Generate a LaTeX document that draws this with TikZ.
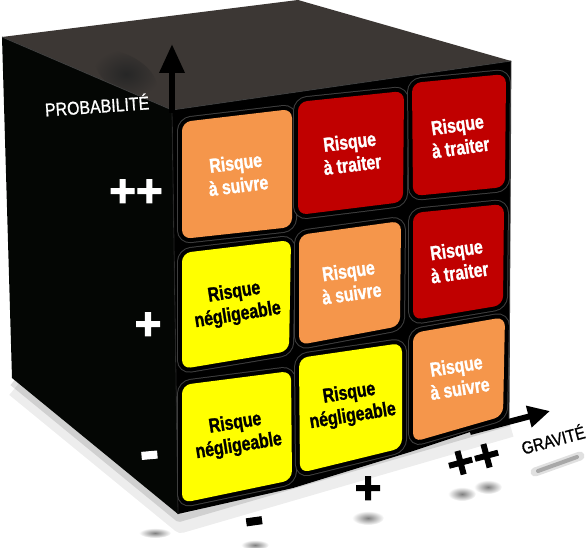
\documentclass[tikz,border=0pt]{standalone}
\usepackage{fontspec}
\setmainfont{Liberation Sans}
\newfontfamily\tilefont{Liberation Sans}[FakeStretch=0.79,FakeBold=1.2]
\newfontfamily\labelfont{Liberation Sans}[FakeStretch=0.86,FakeBold=1]
\newfontfamily\markfont{Liberation Sans}[FakeBold=2]
\usetikzlibrary{arrows.meta}
\definecolor{topface}{RGB}{60,55,52}
\definecolor{sideface}{RGB}{4,6,4}
\definecolor{groove}{RGB}{62,62,62}
\definecolor{riskorange}{RGB}{245,150,75}
\definecolor{riskred}{RGB}{192,0,0}
\definecolor{riskyellow}{RGB}{255,255,0}

\begin{document}
\begin{tikzpicture}[x=1pt,y=1pt,yscale=-1,
  tile/.style={rounded corners=9pt,preaction={draw=groove,line width=10pt},preaction={draw=black,line width=8pt}},
  tiletext/.style={inner sep=0.75pt,align=center,font=\tilefont\bfseries\fontsize{20}{23}\selectfont},
  axislabel/.style={inner sep=0.75pt,font=\labelfont\fontsize{18.5}{20}\selectfont},
  scalemark/.style={inner sep=0pt,font=\markfont\bfseries\fontsize{46}{46}\selectfont},
  minusmark/.style={inner sep=0pt,font=\markfont\bfseries\fontsize{58}{58}\selectfont},
  blob/.style={inner color=black!50,outer color=white}]
\useasboundingbox (0,0) rectangle (586,548);

%Shadow of the cube
\draw [black,opacity=0.07,line width=18pt,line join=round] (15,388) -- (181,524) -- (511,428) ;
\draw [black,opacity=0.12,line width=8pt,line join=round] (13,382) -- (179,518) -- (509,422) ;
%Shadows of the marks
\shade [blob] (155,533) ellipse (16 and 5);
\shade [blob] (255,545) ellipse (14 and 5);
\shade [blob] (368,518) ellipse (16 and 7);
\shade [blob] (462,494) ellipse (14 and 7);
\shade [blob] (488,487) ellipse (14 and 7);
%Shadow of the gravite axis
\draw [black,opacity=0.12,line width=9pt,line cap=round] (535,472) -- (580,456) ;
\draw [black,opacity=0.25,line width=4pt,line cap=round] (538,471) -- (577,457) ;

%Shape: top face
\fill [topface] (2,37) -- (298,0) -- (511,61) -- (172,110) -- cycle ;
\begin{scope}
\clip (2,37) -- (298,0) -- (511,61) -- (172,110) -- cycle ;
\shade [inner color=black!85,outer color=topface,rotate around={30:(126,74)}] (126,74) ellipse (34 and 18);
\end{scope}
%Shape: left face
\fill [sideface] (2,37) -- (172,110) -- (178,514) -- (12,378) -- cycle ;
%Shape: front face
\fill [black] (172,110) -- (511,61) -- (509,419) -- (410,452) -- (293,488) -- (178,514) -- cycle ;
%Edges
\draw [groove,line width=0.8pt] (2,37) -- (172,110) -- (511,61) ;
\draw [groove,line width=0.8pt] (511,61) -- (509,419) ;
\draw [groove!60!black,line width=0.8pt] (172,110) -- (178,514) ;

%Axis probabilite
\coordinate (origin) at (172,113) ;
\coordinate (ptop) at (172,44) ;
\draw [line width=6.5pt,-{Triangle[length=29pt,width=24pt]}] (origin) -- (ptop) ;
%Axis gravite
\coordinate (gstart) at (470,432) ;
\coordinate (gend) at (550,411) ;
\draw [line width=6pt,-{Triangle[length=22pt,width=21pt]}] (gstart) -- (gend) ;

%Tiles, row 1
\path [tile,fill=riskorange] (182,122) -- (292,109) -- (292,227) -- (182,239) -- cycle ;
\path [tile,fill=riskred] (298,102) -- (404,91) -- (403,202) -- (298,215) -- cycle ;
\path [tile,fill=riskred] (412,83) -- (506,74) -- (505,187) -- (413,196) -- cycle ;
%Tiles, row 2
\path [tile,fill=riskyellow] (182,253) -- (291,240) -- (289,351) -- (182,369) -- cycle ;
\path [tile,fill=riskorange] (299,235) -- (401,221) -- (400,326) -- (299,345) -- cycle ;
\path [tile,fill=riskred] (413,213) -- (504,204) -- (503,305) -- (413,320) -- cycle ;
%Tiles, row 3
\path [tile,fill=riskyellow] (182,385) -- (291,371) -- (292,480) -- (182,503) -- cycle ;
\path [tile,fill=riskyellow] (299,358) -- (402,343) -- (402,448) -- (300,473) -- cycle ;
\path [tile,fill=riskorange] (413,333) -- (505,317) -- (503,416) -- (413,442) -- cycle ;

% Text Node
\draw (237,174) node (t11) [tiletext,white,rotate=7] {Risque\\à suivre};
% Text Node
\draw (351,153) node (t12) [tiletext,white,rotate=7] {Risque\\à traiter};
% Text Node
\draw (459,136) node (t13) [tiletext,white,rotate=8] {Risque\\à traiter};
% Text Node
\draw (236,304) node (t21) [tiletext,black,rotate=9] {Risque\\négligeable};
% Text Node
\draw (350,282) node (t22) [tiletext,white,rotate=8] {Risque\\à suivre};
% Text Node
\draw (458,261) node (t23) [tiletext,white,rotate=8] {Risque\\à traiter};
% Text Node
\draw (237,435) node (t31) [tiletext,black,rotate=9] {Risque\\négligeable};
% Text Node
\draw (351,405) node (t32) [tiletext,black,rotate=9] {Risque\\négligeable};
% Text Node
\draw (458,377) node (t33) [tiletext,white,rotate=9] {Risque\\à suivre};

% Text Node
\draw (97,105) node (proba) [axislabel,white,rotate=4] {PROBABILITÉ};
% Text Node
\draw (553,439) node (grav) [axislabel,black,rotate=15,font=\labelfont\fontsize{17.5}{20}\selectfont] {GRAVITÉ};
% Text Node
\draw (136,193) node (pp) [scalemark,white] {++};
% Text Node
\draw (148,326) node (p) [scalemark,white] {+};
% Text Node
\draw (150,461) node (m) [minusmark,white,rotate=5] {-};
% Text Node
\draw (255,527) node (gm) [minusmark,black,rotate=8] {-};
% Text Node
\draw (368,490) node (gp) [scalemark,black] {+};
% Text Node
\draw (474,461) node (gpp) [scalemark,black,rotate=15] {++};

\end{tikzpicture}
\end{document}
